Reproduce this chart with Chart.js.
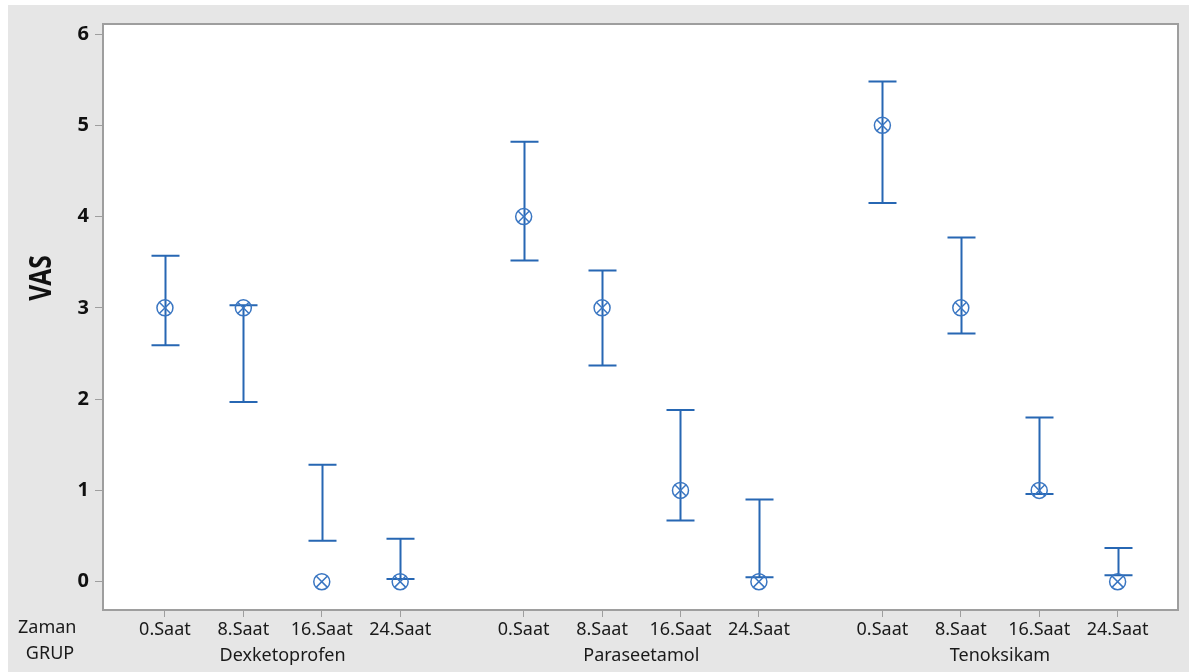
<!DOCTYPE html>
<html>
<head>
<meta charset="utf-8">
<script src="https://cdn.jsdelivr.net/npm/chart.js@4/dist/chart.umd.min.js"></script>
<style>
  html, body { margin: 0; padding: 0; background: #fff; }
  canvas { display: block; }
</style>
</head>
<body>
<canvas id="vasChart" width="1189" height="672"></canvas>
<script>
// VAS interval plot, grouped by GRUP and Zaman
const groups = ['Dexketoprofen', 'Paraseetamol', 'Tenoksikam'];
const times = ['0.Saat', '8.Saat', '16.Saat', '24.Saat'];
const yTicks = [0, 1, 2, 3, 4, 5, 6];

// one value per group x time, in the order above
const means = [3, 3, 0, 0, 4, 3, 1, 0, 5, 3, 1, 0];
const upper = [3.57, 3.03, 1.28, 0.47, 4.82, 3.41, 1.88, 0.90, 5.48, 3.77, 1.80, 0.37];
const lower = [2.59, 1.97, 0.45, 0.03, 3.52, 2.37, 0.67, 0.05, 4.15, 2.72, 0.96, 0.07];

const groupStep = 4.575;
const blue = '#2767b3';

let xPos = [];
let tickText = [];
groups.forEach(function (g, gi) {
  times.forEach(function (t, ti) {
    xPos.push(gi * groupStep + ti);
    tickText.push(t);
  });
});
const groupCenters = groups.map(function (g, gi) { return gi * groupStep + (times.length - 1) / 2; });

const points = means.map(function (m, i) { return { x: xPos[i], y: m }; });

const fontFamily = '"Noto Sans", "DejaVu Sans", sans-serif';

const backdrop = {
  id: 'backdrop',
  beforeDraw(chart) {
    const ctx = chart.ctx;
    const a = chart.chartArea;
    ctx.save();
    ctx.fillStyle = '#ffffff';
    ctx.fillRect(0, 0, chart.width, chart.height);
    ctx.fillStyle = '#e6e6e6';
    ctx.fillRect(8, 5, chart.width - 8, chart.height - 5);
    ctx.fillStyle = '#ffffff';
    ctx.fillRect(a.left, a.top, a.right - a.left, a.bottom - a.top);
    ctx.restore();
  },
  afterDraw(chart) {
    const ctx = chart.ctx;
    const a = chart.chartArea;
    ctx.save();
    ctx.strokeStyle = '#9e9e9e';
    ctx.lineWidth = 2;
    ctx.strokeRect(a.left, a.top, a.right - a.left, a.bottom - a.top);

    ctx.fillStyle = '#1a1a1a';
    ctx.font = '18px ' + fontFamily;
    ctx.textBaseline = 'middle';
    ctx.textAlign = 'left';
    ctx.fillText('Zaman', 18, 628);
    ctx.textAlign = 'center';
    ctx.fillText('GRUP', 50, 654);

    ctx.translate(42, 278);
    ctx.rotate(-Math.PI / 2);
    ctx.scale(0.82, 1);
    ctx.font = 'bold 30px ' + fontFamily;
    ctx.fillStyle = '#111';
    ctx.fillText('VAS', 0, 0);
    ctx.restore();
  }
};

const errorBars = {
  id: 'errorBars',
  beforeDatasetsDraw(chart) {
    const ctx = chart.ctx;
    const xs = chart.scales.x;
    const ys = chart.scales.y;
    ctx.save();
    ctx.strokeStyle = blue;
    ctx.lineWidth = 2;
    for (let i = 0; i < means.length; i++) {
      const px = Math.round(xs.getPixelForValue(xPos[i])) + 0.5;
      const top = ys.getPixelForValue(upper[i]);
      const bot = ys.getPixelForValue(lower[i]);
      ctx.beginPath();
      ctx.moveTo(px, top);
      ctx.lineTo(px, bot);
      ctx.moveTo(px - 14, top);
      ctx.lineTo(px + 14, top);
      ctx.moveTo(px - 14, bot);
      ctx.lineTo(px + 14, bot);
      ctx.stroke();
    }
    ctx.restore();
  }
};

new Chart(document.getElementById('vasChart'), {
  type: 'scatter',
  data: {
    datasets: [
      {
        data: points,
        pointStyle: 'circle',
        pointRadius: 8,
        pointHoverRadius: 8,
        borderColor: '#3a76c2',
        backgroundColor: 'rgba(0,0,0,0)',
        borderWidth: 1.5,
      },
      {
        data: points,
        pointStyle: 'crossRot',
        pointRadius: 8,
        pointHoverRadius: 8,
        borderColor: '#3a76c2',
        backgroundColor: 'rgba(0,0,0,0)',
        borderWidth: 1.5,
      },
    ],
  },
  options: {
    responsive: false,
    animation: false,
    devicePixelRatio: 1,
    layout: { padding: { left: 0, top: 24, right: 11, bottom: 0 } },
    plugins: {
      legend: { display: false },
      tooltip: { enabled: false },
    },
    scales: {
      x: {
        type: 'linear',
        position: 'bottom',
        weight: 1,
        min: -0.79,
        max: 12.92,
        afterBuildTicks: function (scale) {
          scale.ticks = xPos.map(function (v) { return { value: v }; });
        },
        afterFit: function (scale) { scale.height = 30; },
        grid: { drawOnChartArea: false, drawTicks: true, tickLength: 7, color: '#9e9e9e', lineWidth: 1 },
        border: { display: false },
        ticks: {
          autoSkip: false,
          maxRotation: 0,
          padding: 2,
          color: '#1a1a1a',
          font: { family: fontFamily, size: 18 },
          callback: function (value, index) { return tickText[index]; },
        },
      },
      x2: {
        type: 'linear',
        position: 'bottom',
        weight: 2,
        min: -0.79,
        max: 12.92,
        afterBuildTicks: function (scale) {
          scale.ticks = groupCenters.map(function (v) { return { value: v }; });
        },
        afterFit: function (scale) { scale.height = 32; },
        grid: { display: false, drawTicks: false },
        border: { display: false },
        ticks: {
          autoSkip: false,
          maxRotation: 0,
          padding: 5,
          color: '#1a1a1a',
          font: { family: fontFamily, size: 18 },
          callback: function (value, index) { return groups[index]; },
        },
      },
      y: {
        type: 'linear',
        min: -0.31,
        max: 6.11,
        afterBuildTicks: function (scale) {
          scale.ticks = yTicks.map(function (v) { return { value: v }; });
        },
        afterFit: function (scale) { scale.width = 103; },
        grid: { drawOnChartArea: false, drawTicks: true, tickLength: 8, color: '#9e9e9e', lineWidth: 1 },
        border: { display: false },
        ticks: {
          padding: 6,
          color: '#111',
          font: { family: fontFamily, size: 20, weight: 'bold' },
        },
      },
    },
  },
  plugins: [backdrop, errorBars],
});
</script>
</body>
</html>
